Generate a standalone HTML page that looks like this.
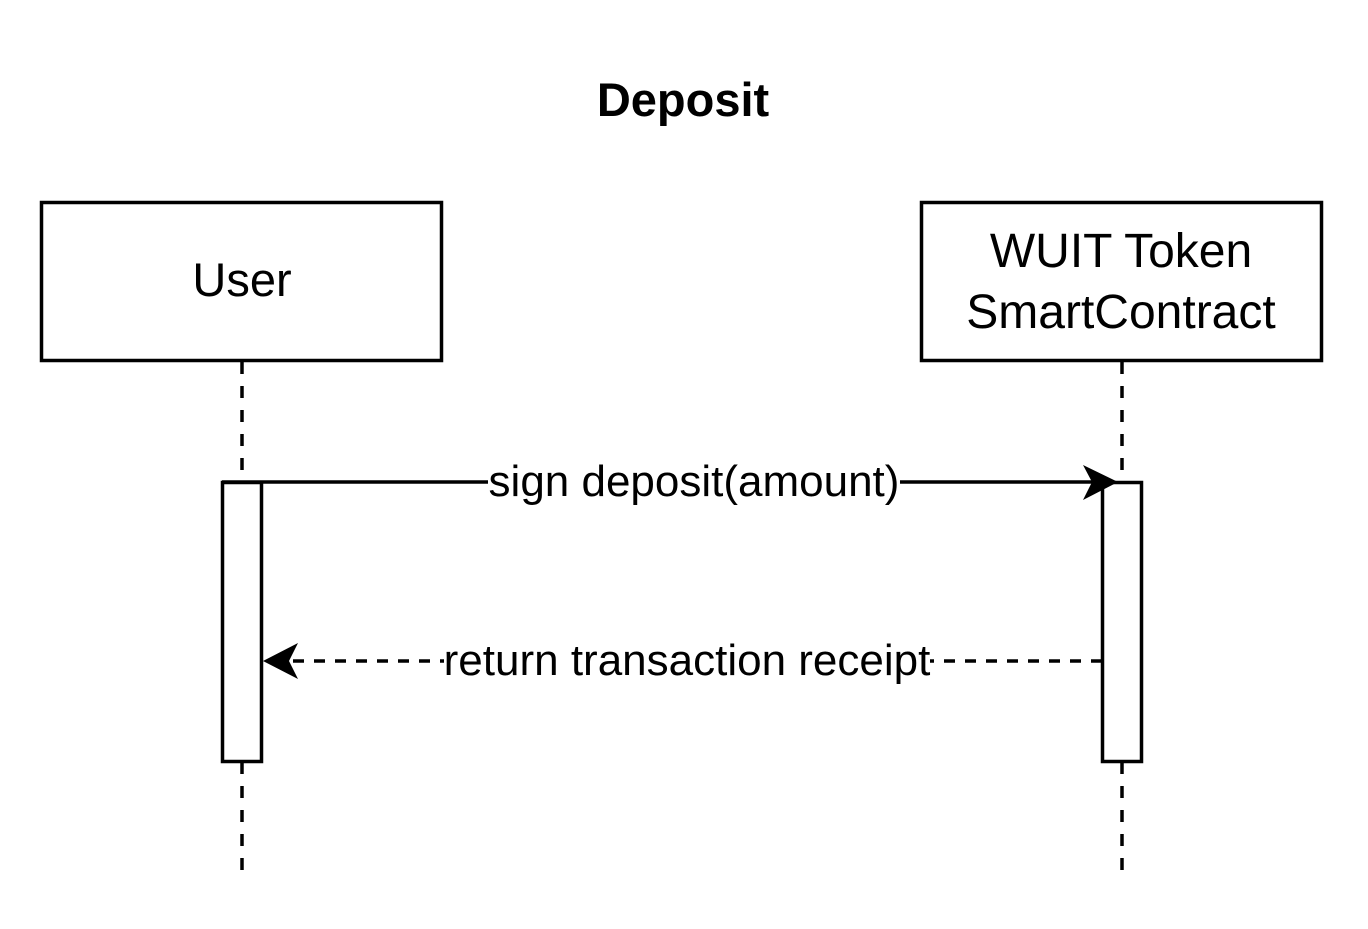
<!DOCTYPE html>
<html><head><meta charset="utf-8"><style>html,body{margin:0;padding:0;background:#fff}</style></head>
<body>
<svg width="1368" height="924" xmlns="http://www.w3.org/2000/svg" font-family="Liberation Sans, Arial, sans-serif">
<rect width="1368" height="924" fill="#fff"/>
<text x="683" y="116" font-size="47" font-weight="bold" text-anchor="middle">Deposit</text>
<rect x="41.5" y="202.5" width="400" height="158" fill="#fff" stroke="#000" stroke-width="3.5"/>
<text x="242" y="296" font-size="47" text-anchor="middle">User</text>
<rect x="921.5" y="202.5" width="400" height="158" fill="#fff" stroke="#000" stroke-width="3.5"/>
<text x="1121" y="267" font-size="48" text-anchor="middle">WUIT Token</text>
<text x="1121" y="328" font-size="48" text-anchor="middle">SmartContract</text>
<line x1="242" y1="362" x2="242" y2="482" stroke="#000" stroke-width="3.5" stroke-dasharray="12 12"/>
<line x1="242" y1="762" x2="242" y2="880" stroke="#000" stroke-width="3.5" stroke-dasharray="12 12"/>
<line x1="1122" y1="362" x2="1122" y2="482" stroke="#000" stroke-width="3.5" stroke-dasharray="12 12"/>
<line x1="1122" y1="762" x2="1122" y2="880" stroke="#000" stroke-width="3.5" stroke-dasharray="12 12"/>
<rect x="222.5" y="482.5" width="39" height="279" fill="#fff" stroke="#000" stroke-width="3.5"/>
<rect x="1102.5" y="482.5" width="39" height="279" fill="#fff" stroke="#000" stroke-width="3.5"/>
<line x1="222" y1="482" x2="1100" y2="482" stroke="#000" stroke-width="3.5"/>
<path d="M1118 482 L1083 465 L1092 482 L1083 500 Z" fill="#000"/>
<line x1="1102" y1="661" x2="280" y2="661" stroke="#000" stroke-width="3.5" stroke-dasharray="11 10"/>
<path d="M263 661 L298 643 L289 661 L298 679 Z" fill="#000"/>
<rect x="488" y="458" width="412" height="46" fill="#fff"/>
<text x="694" y="496" font-size="44" text-anchor="middle">sign deposit(amount)</text>
<rect x="444" y="637" width="486" height="46" fill="#fff"/>
<text x="687" y="675" font-size="44" text-anchor="middle">return transaction receipt</text>
</svg>
</body></html>
